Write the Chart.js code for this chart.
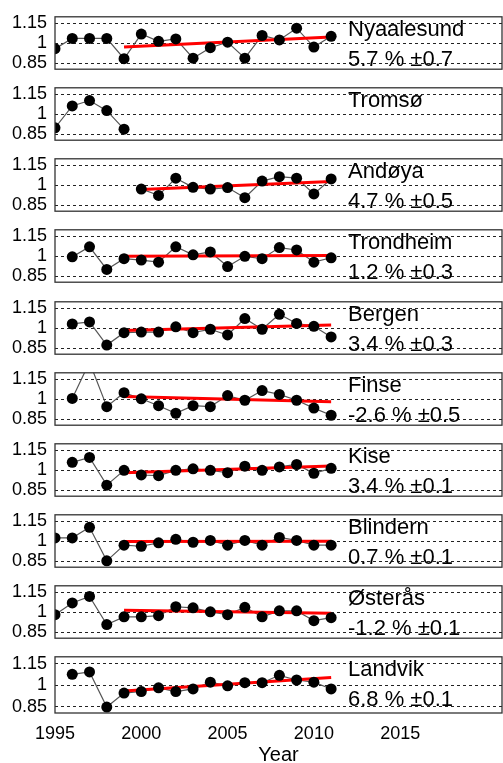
<!DOCTYPE html>
<html>
<head>
<meta charset="utf-8">
<script src="https://cdn.jsdelivr.net/npm/chart.js@4"></script>
<style>
  html, body { margin: 0; padding: 0; background: #fff; overflow: hidden; }
  body { width: 503px; height: 763px; position: relative; }
  .panel { position: absolute; left: 0; width: 503px; }
</style>
</head>
<body>
<script>
// years on the x axis
const years = [1995, 1996, 1997, 1998, 1999, 2000, 2001, 2002, 2003, 2004, 2005, 2006, 2007, 2008, 2009, 2010, 2011];
const xTicks = [1995, 2000, 2005, 2010, 2015];
const yTicks = [0.85, 1, 1.15];

const stations = ['Nyaalesund', 'Tromsø', 'Andøya', 'Trondheim', 'Bergen', 'Finse', 'Kise', 'Blindern', 'Østerås', 'Landvik'];
const trendLabels = ['5.7 % ±0.7', '', '4.7 % ±0.5', '1.2 % ±0.3', '3.4 % ±0.3', '-2.6 % ±0.5', '3.4 % ±0.1', '0.7 % ±0.1', '-1.2 % ±0.1', '6.8 % ±0.1'];

// normalised yearly values per station (null = no data)
const nyaalesund = [0.96, 1.037, 1.037, 1.037, 0.884, 1.07, 1.015, 1.033, 0.888, 0.967, 1.009, 0.888, 1.059, 1.026, 1.114, 0.972, 1.053];
const tromso = [0.898, 1.063, 1.104, 1.028, 0.888, null, null, null, null, null, null, null, null, null, null, null, null];
const andoya = [null, null, null, null, null, 0.972, 0.924, 1.054, 0.985, 0.972, 0.983, 0.907, 1.032, 1.065, 1.054, 0.935, 1.048];
const trondheim = [null, 0.996, 1.072, 0.901, 0.982, 0.972, 0.956, 1.072, 1.011, 1.033, 0.923, 1.0, 0.982, 1.066, 1.048, 0.956, 0.989];
const bergen = [null, 1.033, 1.048, 0.874, 0.967, 0.972, 0.972, 1.011, 0.967, 0.993, 0.95, 1.074, 0.993, 1.106, 1.037, 1.015, 0.935];
const finse = [null, 1.007, 1.28, 0.945, 1.05, 1.004, 0.952, 0.895, 0.952, 0.945, 1.028, 0.993, 1.066, 1.037, 0.993, 0.934, 0.88];
const kise = [null, 1.06, 1.097, 0.888, 1.0, 0.965, 0.96, 1.0, 1.011, 1.0, 0.982, 1.031, 1.0, 1.026, 1.044, 0.978, 1.015];
const blindern = [1.026, 1.026, 1.106, 0.853, 0.971, 0.963, 0.989, 1.015, 0.993, 1.007, 0.971, 1.007, 0.971, 1.029, 1.007, 0.971, 0.971];
const osteras = [0.982, 1.071, 1.12, 0.908, 0.966, 0.966, 0.975, 1.042, 1.034, 1.004, 0.982, 1.038, 0.966, 1.011, 1.011, 0.937, 0.96];
const landvik = [null, 1.077, 1.094, 0.847, 0.945, 0.956, 0.982, 0.956, 0.974, 1.022, 0.996, 1.018, 1.018, 1.07, 1.037, 1.022, 0.974];
const series = [nyaalesund, tromso, andoya, trondheim, bergen, finse, kise, blindern, osteras, landvik];

// linear trend lines (red), null = none
const trendFrom = [1999, null, 2000, 1999, 1999, 1999, 1999, 1999, 1999, 1999];
const trendTo = 2011;
const trendStart = [0.972, null, 0.968, 1.0, 0.983, 1.022, 0.982, 0.998, 1.015, 0.96];
const trendEnd = [1.048, null, 1.028, 1.007, 1.026, 0.982, 1.033, 1.0, 0.993, 1.055];

const FONT = "'Liberation Sans', Arial, sans-serif";
Chart.defaults.font.family = FONT;
Chart.defaults.color = '#000';

// frame + station text on each panel
const panelText = {
  id: 'panelText',
  afterDraw(chart) {
    const { ctx, chartArea } = chart;
    const i = chart.options.plugins.panelText.index;
    ctx.save();
    ctx.strokeStyle = '#333';
    ctx.lineWidth = 1.3;
    ctx.strokeRect(chartArea.left, chartArea.top, chartArea.right - chartArea.left, chartArea.bottom - chartArea.top);
    ctx.fillStyle = '#000';
    ctx.font = '22px ' + FONT;
    ctx.textBaseline = 'middle';
    ctx.textAlign = 'left';
    ctx.fillText(stations[i], 348, chartArea.top + 13);
    if (trendLabels[i]) ctx.fillText(trendLabels[i], 348, chartArea.top + 43);
    ctx.restore();
  }
};

const PANEL_H = 60;
const PAD = 15;

stations.forEach((name, i) => {
  const last = i === stations.length - 1;
  const top = 13 + i * 71.15;
  const xAxisH = last ? 52 : 0;

  const div = document.createElement('div');
  div.className = 'panel';
  div.style.top = (top - PAD) + 'px';
  div.style.height = (PAD + PANEL_H + (last ? xAxisH : PAD)) + 'px';
  const canvas = document.createElement('canvas');
  div.appendChild(canvas);
  document.body.appendChild(div);

  const vals = series[i];
  const pts = years.map((yr, k) => ({ x: yr, y: vals[k] }));
  const datasets = [
    { data: pts, borderColor: '#555', borderWidth: 1.2, pointRadius: 0, order: 3 }
  ];
  if (trendFrom[i] !== null) {
    datasets.push({
      data: [{ x: trendFrom[i], y: trendStart[i] }, { x: trendTo, y: trendEnd[i] }],
      borderColor: '#ff0000', borderWidth: 3, pointRadius: 0, order: 2
    });
  }
  datasets.push({
    data: pts, showLine: false, pointRadius: 5.5, pointBackgroundColor: '#000',
    pointBorderColor: '#000', pointBorderWidth: 0, order: 1
  });

  new Chart(canvas, {
    type: 'line',
    data: { datasets },
    options: {
      responsive: true,
      maintainAspectRatio: false,
      animation: false,
      layout: { autoPadding: false, padding: { top: PAD, bottom: last ? 0 : PAD, left: 0, right: 1 } },
      plugins: { legend: { display: false }, tooltip: { enabled: false }, panelText: { index: i } },
      scales: {
        x: {
          type: 'linear',
          min: 1995,
          max: 2020.9,
          display: last,
          afterBuildTicks: (axis) => { axis.ticks = xTicks.map(v => ({ value: v })); },
          afterFit: (axis) => { axis.height = xAxisH; },
          grid: { display: false },
          border: { display: false },
          ticks: { font: { size: 18 }, padding: 2, maxRotation: 0, callback: (v) => String(v) },
          title: { display: true, text: 'Year', font: { size: 20, lineHeight: 1 }, padding: 0 }
        },
        y: {
          min: 0.805,
          max: 1.2,
          afterBuildTicks: (axis) => { axis.ticks = yTicks.map(v => ({ value: v })); },
          afterFit: (axis) => { axis.width = 55; },
          grid: { color: '#222', lineWidth: 1, drawTicks: false },
          border: { display: false, dash: [3, 3] },
          ticks: { font: { size: 18 }, padding: 8, callback: (v) => String(v) }
        }
      }
    },
    plugins: [panelText]
  });
});
</script>
</body>
</html>
